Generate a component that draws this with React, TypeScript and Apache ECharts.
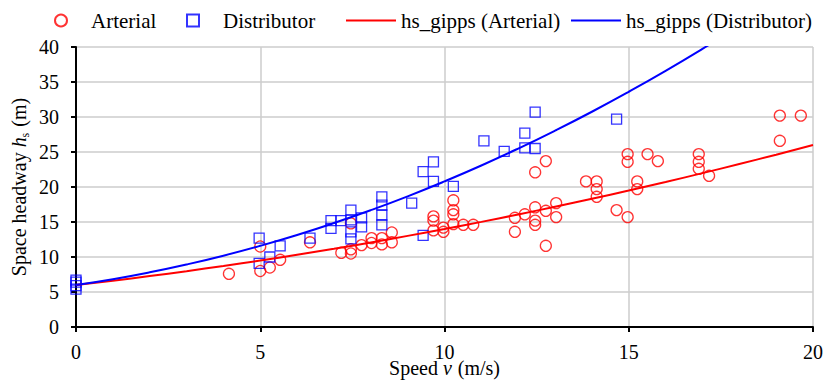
import React, { useEffect, useRef } from "react";
import * as echarts from "echarts";

const FONT = "Liberation Serif";

// Arterial observations: [speed (m/s), space headway (m)]
const arterialSpeed = [4.15, 5.0, 5.0, 5.26, 5.54, 6.35, 7.2, 7.46, 7.46, 7.46, 7.75, 8.02, 8.02, 8.3, 8.3, 8.57, 8.57, 9.7, 9.7, 9.7, 9.97, 9.97, 10.24, 10.24, 10.24, 10.24, 10.51, 10.78, 11.91, 11.91, 12.18, 12.46, 12.46, 12.46, 12.46, 12.75, 12.75, 12.75, 13.03, 13.03, 13.84, 14.13, 14.13, 14.13, 14.67, 14.97, 14.97, 14.97, 15.23, 15.23, 15.51, 15.79, 16.9, 16.9, 16.9, 17.18, 19.1, 19.67, 19.1];
const arterialHeadway = [7.6, 8.0, 11.5, 8.5, 9.6, 12.1, 10.6, 14.8, 11.1, 10.5, 11.7, 12.7, 12.0, 12.7, 11.8, 13.5, 12.1, 15.8, 15.2, 13.8, 14.2, 13.6, 18.1, 16.7, 16.1, 14.7, 14.6, 14.6, 15.6, 13.6, 16.1, 22.1, 17.1, 15.2, 14.6, 23.7, 16.6, 11.6, 17.7, 15.7, 20.8, 20.8, 19.7, 18.6, 16.7, 24.7, 23.6, 15.7, 20.8, 19.7, 24.7, 23.7, 24.7, 23.6, 22.6, 21.6, 30.2, 30.2, 26.6];

// Distributor observations
const distributorSpeed = [0, 0, 0, 0, 4.97, 4.97, 5.26, 5.54, 6.35, 6.92, 6.92, 7.19, 7.46, 7.46, 7.46, 7.46, 7.75, 7.75, 8.3, 8.3, 8.3, 8.3, 9.11, 9.42, 9.42, 9.7, 9.7, 10.24, 11.07, 11.62, 12.18, 12.18, 12.46, 12.46, 14.67];
const distributorHeadway = [6.7, 6.4, 5.9, 5.4, 12.7, 9.1, 10.0, 11.6, 12.7, 15.2, 14.1, 15.2, 16.7, 15.3, 13.6, 12.6, 15.6, 14.3, 18.6, 17.4, 16.0, 14.6, 17.7, 22.2, 13.1, 23.6, 20.8, 20.1, 26.6, 25.1, 27.7, 25.6, 30.7, 25.5, 29.7];

// Fitted Gipps curves read at integer speeds
const curveSpeed = [0, 1, 2, 3, 4, 5, 6, 7, 8, 9, 10, 11, 12, 13, 14, 15, 16, 17, 18, 19, 20];
const gippsArterial = [6, 6.62, 7.28, 7.98, 8.72, 9.5, 10.32, 11.18, 12.08, 13.02, 14, 15.02, 16.08, 17.18, 18.32, 19.5, 20.72, 21.98, 23.28, 24.62, 26];
const gippsDistributor = [6, 6.83, 7.81, 8.93, 10.19, 11.6, 13.15, 14.85, 16.69, 18.67, 20.8, 23.07, 25.49, 28.05, 30.75, 33.6, 36.59, 39.73, 43.0, 46.4, 50.0];

const seriesNames = ["Arterial", "Distributor", "hs_gipps (Arterial)", "hs_gipps (Distributor)"];

const xTicks = { min: 0, max: 20, interval: 5 };
const yTicks = { min: 0, max: 40, interval: 5 };

const zip = (a: number[], b: number[]) => a.map((v, i) => [v, b[i]]);

const LINE_ICON = "path://M0,0L50,0L50,2L0,2Z";
const SQUARE_ICON = "path://M0,0L10,0L10,10L0,10Z";

export default function App() {
  const ref = useRef<HTMLDivElement>(null);
  useEffect(() => {
    if (!ref.current) return;
    const chart = echarts.init(ref.current, undefined, { renderer: "svg" });
    const axisCommon = {
      axisLine: { show: true, onZero: false, lineStyle: { color: "#000", width: 2 } },
      axisTick: { show: true, length: 5, lineStyle: { color: "#000", width: 2 } },
      splitLine: { show: true, lineStyle: { color: "#cccccc", width: 1.5 } },
    };
    const legendBase = {
      top: 5,
      itemWidth: 50,
      itemHeight: 12,
      textStyle: { fontSize: 21, color: "#000", fontFamily: FONT },
    };
    const legendLefts = [49, 181, 341, 566];
    const legendIcons = [undefined, SQUARE_ICON, LINE_ICON, LINE_ICON];
    chart.setOption({
      animation: false,
      backgroundColor: "#fff",
      textStyle: { fontFamily: FONT, fontSize: 20, color: "#000" },
      legend: seriesNames.map((n, i) => ({
        ...legendBase,
        left: legendLefts[i],
        data: [legendIcons[i] ? { name: n, icon: legendIcons[i] } : { name: n }],
      })),
      grid: { left: 76, right: 10, top: 47, bottom: 53, containLabel: false, outerBoundsMode: "none" },
      xAxis: {
        type: "value",
        ...xTicks,
        ...axisCommon,
        axisLabel: { fontSize: 20, color: "#000", margin: 15, fontFamily: FONT },
        name: "{a|Speed }{i|v}{a| (m/s)}",
        nameLocation: "middle",
        nameGap: 31,
        nameMoveOverlap: false,
        nameTextStyle: {
          fontFamily: FONT,
          fontSize: 20,
          rich: {
            a: { fontSize: 20, color: "#000", fontFamily: FONT },
            i: { fontSize: 20, color: "#000", fontFamily: FONT, fontStyle: "italic", padding: [0, 1, 0, 0] },
          },
        },
      },
      yAxis: {
        type: "value",
        ...yTicks,
        ...axisCommon,
        axisLabel: { fontSize: 20, color: "#000", margin: 17, fontFamily: FONT },
        name: "{a|Space headway }{i|h}{s|s}{a| (m)}",
        nameLocation: "middle",
        nameGap: 45,
        nameMoveOverlap: false,
        nameTextStyle: {
          fontFamily: FONT,
          fontSize: 20,
          rich: {
            a: { fontSize: 20, color: "#000", fontFamily: FONT },
            i: { fontSize: 20, color: "#000", fontFamily: FONT, fontStyle: "italic" },
            s: { fontSize: 12, color: "#000", fontFamily: FONT, padding: [12, 1, 0, 0] },
          },
        },
      },
      series: [
        {
          name: seriesNames[0],
          type: "scatter",
          symbol: "circle",
          symbolSize: 11,
          data: zip(arterialSpeed, arterialHeadway),
          itemStyle: { color: "rgba(255,255,255,0)", borderColor: "#ff0000", borderWidth: 1.3 },
          z: 2,
        },
        {
          name: seriesNames[1],
          type: "scatter",
          symbol: "rect",
          symbolSize: 10,
          data: zip(distributorSpeed, distributorHeadway),
          itemStyle: { color: "rgba(255,255,255,0)", borderColor: "#0000ff", borderWidth: 1.3 },
          z: 2,
        },
        {
          name: seriesNames[2],
          type: "line",
          smooth: true,
          symbol: "none",
          data: zip(curveSpeed, gippsArterial),
          lineStyle: { color: "#ff0000", width: 2 },
          itemStyle: { color: "#ff0000" },
          z: 3,
        },
        {
          name: seriesNames[3],
          type: "line",
          smooth: true,
          symbol: "none",
          clip: true,
          data: zip(curveSpeed, gippsDistributor),
          lineStyle: { color: "#0000ff", width: 2 },
          itemStyle: { color: "#0000ff" },
          z: 3,
        },
      ],
    });
    return () => chart.dispose();
  }, []);
  return (
    <div
      ref={ref}
      style={{ position: "fixed", left: 0, top: 0, width: 823, height: 380, background: "#fff" }}
    />
  );
}
